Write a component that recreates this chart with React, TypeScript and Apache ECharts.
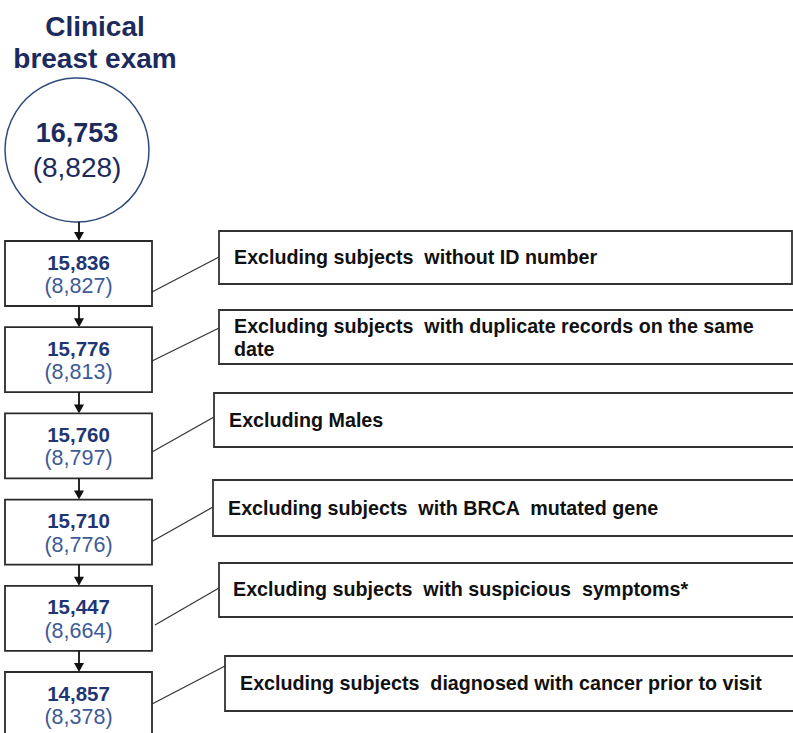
import React, { useEffect, useRef } from "react";
import * as echarts from "echarts";

// ---- data ----
const titleLines = ["Clinical", "breast exam"];
const startTotal = 16753;
const startFemale = 8828;
const stepTotals = [15836, 15776, 15760, 15710, 15447, 14857];
const stepFemales = [8827, 8813, 8797, 8776, 8664, 8378];
const exclusionLabels = [
  ["Excluding subjects  without ID number"],
  ["Excluding subjects  with duplicate records on the same", "date"],
  ["Excluding Males"],
  ["Excluding subjects  with BRCA  mutated gene"],
  ["Excluding subjects  with suspicious  symptoms*"],
  ["Excluding subjects  diagnosed with cancer prior to visit"],
];

// ---- layout ----
const W = 793;
const H = 733;
const FONT = "'Liberation Sans', Arial, Helvetica, sans-serif";
const NAVY = "#1c2b5c";
const NUM_BOLD = "#1f3674";
const NUM_LIGHT = "#3e5a97";
const CIRCLE = { cx: 77, cy: 150, r: 72 };
const BOX = { x: 5, w: 147, h: 65, top0: 241, step: 86.2, cx: 79 };
const EXCL = [
  { x: 219, y: 231, h: 53, right: 792, tx: 234, ty: 257, from: [152, 292], to: 257 },
  { x: 219, y: 310, h: 54, right: 800, tx: 234, ty: 326, from: [148, 363], to: 328 },
  { x: 214, y: 393, h: 54, right: 800, tx: 229, ty: 420, from: [152, 452], to: 417 },
  { x: 213, y: 480, h: 56, right: 800, tx: 228, ty: 508, from: [151, 542], to: 507 },
  { x: 219, y: 563, h: 54, right: 800, tx: 233, ty: 589, from: [155, 625], to: 588 },
  { x: 225, y: 656, h: 55, right: 800, tx: 240, ty: 683, from: [152, 704], to: 666 },
];

const fmt = (n: number) => n.toLocaleString("en-US");

function txt(text: string, x: number, y: number, size: number, weight: string, fill: string, align = "center") {
  return {
    type: "text",
    x,
    y,
    style: {
      text,
      font: `${weight} ${size}px ${FONT}`,
      fill,
      align,
      verticalAlign: "middle",
      textAlign: align,
      textVerticalAlign: "middle",
    },
  };
}

function arrow(x: number, y1: number, y2: number) {
  return [
    { type: "line", shape: { x1: x, y1, x2: x, y2: y2 - 6 }, style: { stroke: "#111", lineWidth: 1.8 } },
    {
      type: "polygon",
      shape: { points: [[x - 5, y2 - 9], [x + 5, y2 - 9], [x, y2]] },
      style: { fill: "#111" },
    },
  ];
}

export default function App() {
  const ref = useRef<HTMLDivElement>(null);
  useEffect(() => {
    document.body.style.margin = "0";
    if (!ref.current) return;
    const chart = echarts.init(ref.current, undefined, { renderer: "svg" });
    const els: any[] = [];

    // title
    els.push(txt(titleLines[0], 95, 26.5, 28, "bold", NAVY));
    els.push(txt(titleLines[1], 95, 58, 28, "bold", NAVY));

    // start circle
    els.push({
      type: "circle",
      shape: { cx: CIRCLE.cx, cy: CIRCLE.cy, r: CIRCLE.r },
      style: { fill: "#fff", stroke: "#2f4a7c", lineWidth: 1.5 },
    });
    els.push(txt(fmt(startTotal), 77, 132.5, 27, "bold", NAVY));
    els.push(txt(`(${fmt(startFemale)})`, 77, 167, 28, "normal", NAVY));
    els.push(...arrow(BOX.cx, CIRCLE.cy + CIRCLE.r, BOX.top0));

    stepTotals.forEach((total, i) => {
      const top = BOX.top0 + i * BOX.step;
      const e = EXCL[i];
      // connector
      els.push({
        type: "line",
        shape: { x1: e.from[0], y1: e.from[1], x2: e.x, y2: e.to },
        style: { stroke: "#333", lineWidth: 1.2 },
      });
      // exclusion box
      els.push({
        type: "rect",
        shape: { x: e.x, y: e.y, width: e.right - e.x, height: e.h },
        style: { fill: "#fff", stroke: "#333", lineWidth: 1.8 },
      });
      exclusionLabels[i].forEach((line, k) => {
        els.push(txt(line, e.tx, e.ty + k * 23, 19.7, "bold", "#111", "left"));
      });
      // step box
      els.push({
        type: "rect",
        shape: { x: BOX.x, y: top, width: BOX.w, height: BOX.h },
        style: { fill: "#fff", stroke: "#2a2a2a", lineWidth: 1.8 },
      });
      els.push(txt(fmt(total), BOX.x + BOX.w / 2, top + 21, 20.5, "bold", NUM_BOLD));
      els.push(txt(`(${fmt(stepFemales[i])})`, BOX.x + BOX.w / 2, top + 45, 21.5, "normal", NUM_LIGHT));
      if (i < stepTotals.length - 1) {
        els.push(...arrow(BOX.cx, top + BOX.h, BOX.top0 + (i + 1) * BOX.step));
      }
    });

    chart.setOption({ animation: false, backgroundColor: "#fff", graphic: { elements: els } });
    return () => chart.dispose();
  }, []);
  return <div ref={ref} style={{ width: W, height: H }} />;
}
